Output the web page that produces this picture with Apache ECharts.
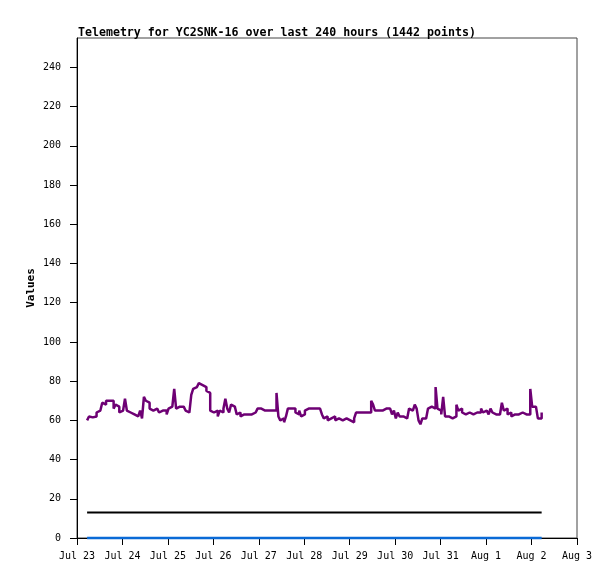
<!DOCTYPE html>
<html>
<head>
<meta charset="utf-8">
<script src="https://cdn.jsdelivr.net/npm/echarts@6/dist/echarts.min.js"></script>
<style>
html,body{margin:0;padding:0;background:#fff;}
#chart{width:615px;height:579px;}
</style>
</head>
<body>
<div id="chart"></div>
<script>
// Chart text
var titleText = 'Telemetry for YC2SNK-16 over last 240 hours (1442 points)';
var yAxisName = 'Values';
var yTicks = [0, 20, 40, 60, 80, 100, 120, 140, 160, 180, 200, 220, 240];
var firstDay = '2024-07-23';
var lastDay = '2024-08-03';
var monthNames = ['Jan','Feb','Mar','Apr','May','Jun','Jul','Aug','Sep','Oct','Nov','Dec'];

// Series start time (UTC) and hourly sample step
var startTime = '2024-07-23T05:20:00Z';
var stepHours = 1;

// Purple telemetry values, one per hour
var purpleValues = [
  60,62,61.5,61,62,64,65,66,69,68,
  70,70,71,70,66,68,67,64,65,65,
  71,65,64,64,63,62,62,62,65,61,
  72,70,69,66,65,64,66,65,64,65,
  64,65,63,66,67,66,76,66,67,66,
  67,66,65,64,63,73,76,77,78,79,
  78,77,77,75,74,65,64,63,65,62,
  65,64,66,71,66,64,68,67,66,63,
  64,62,63,64,63,64,63,63,64,63,
  66,66,65,65,65,65,65,65,65,65,
  74,62,60,61,59,62,66,66,65,66,
  64,63,65,62,63,65,66,66,66,66,
  66,66,66,66,63,61,62,60,61,61,
  62,60,61,62,60,61,61,62,60,61,
  59,61,64,64,64,64,64,64,64,64,
  70,68,65,65,64,65,65,66,66,66,
  66,63,65,61,64,62,62,62,61,62,
  66,65,66,68,66,60,58,61,61,61,
  66,67,67,66,77,66,65,63,72,62,
  62,62,61,62,62,68,65,66,64,63,
  62,64,64,63,64,64,63,64,66,64,
  65,64,63,66,64,63,64,63,64,69,
  65,66,63,64,62,63,64,63,63,64,
  63,63,64,63,76,67,67,66,61,61,
  64
];
// Constant series
var blackValue = 13;
var blueValue = 0;

var t0 = Date.parse(startTime);
var H = 3600 * 1000;
var DAY = 24 * H;
var purpleData = purpleValues.map(function (v, i) { return [t0 + i * stepHours * H, v]; });
var tEnd = t0 + (purpleValues.length - 1) * stepHours * H;
var blackData = [[t0, blackValue], [tEnd, blackValue]];
var blueData = [[t0, blueValue], [tEnd, blueValue]];
var xMin = Date.parse(firstDay + 'T00:00:00Z');
var xMax = Date.parse(lastDay + 'T00:00:00Z');

var FONT = 'DejaVu Sans Mono';
var chart = echarts.init(document.getElementById('chart'), null, {renderer: 'canvas'});
chart.setOption({
  animation: false,
  backgroundColor: '#ffffff',
  title: {
    text: titleText,
    left: 73, top: 22,
    textStyle: {fontFamily: FONT, fontWeight: 'bold', fontSize: 11.6, color: '#000'}
  },
  grid: {
    left: 77, right: 38, top: 38, bottom: 41,
    show: true, borderColor: '#444', borderWidth: 1, backgroundColor: 'transparent'
  },
  xAxis: {
    type: 'value',
    min: xMin, max: xMax, interval: DAY,
    axisLine: {show: true, onZero: false, lineStyle: {color: '#000', width: 1}},
    axisTick: {show: true, length: 7, inside: false, lineStyle: {color: '#000'}},
    axisLabel: {
      fontFamily: FONT, fontSize: 10, color: '#000', margin: 13,
      hideOverlap: false, showMinLabel: true, showMaxLabel: true,
      formatter: function (v) {
        var d = new Date(v);
        return monthNames[d.getUTCMonth()] + ' ' + d.getUTCDate();
      }
    },
    splitLine: {show: false}
  },
  yAxis: {
    type: 'value',
    min: 0, max: 255,
    name: yAxisName,
    nameLocation: 'middle', nameRotate: 90, nameGap: 40, nameMoveOverlap: false,
    nameTextStyle: {fontFamily: FONT, fontWeight: 'bold', fontSize: 11, color: '#000'},
    axisLine: {show: true, lineStyle: {color: '#000', width: 1}},
    axisTick: {show: true, length: 7, customValues: yTicks, lineStyle: {color: '#000'}},
    axisLabel: {customValues: yTicks, fontFamily: FONT, fontSize: 10, color: '#000', margin: 16},
    splitLine: {show: false}
  },
  series: [
    {
      type: 'line', data: purpleData, step: 'end', showSymbol: false, symbol: 'none',
      lineStyle: {color: '#6e0074', width: 2.5}, z: 3
    },
    {
      type: 'line', data: blackData, showSymbol: false, symbol: 'none',
      lineStyle: {color: '#000', width: 2}, z: 2
    },
    {
      type: 'line', data: blueData, showSymbol: false, symbol: 'none', clip: false,
      lineStyle: {color: '#0a6ad6', width: 2.5}, z: 10
    }
  ]
});
</script>
</body>
</html>
